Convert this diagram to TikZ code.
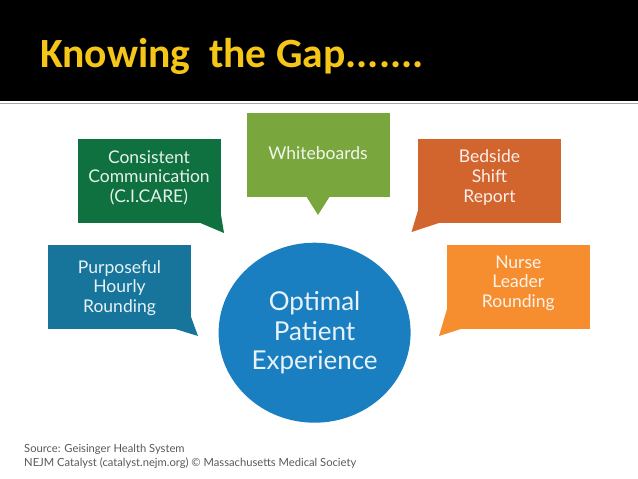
\documentclass[tikz,border=0pt]{standalone}
\usepackage{fontspec}
\setmainfont{Lato}
\newfontfamily\titlefont{Carlito}
\usepackage{tikz}
\definecolor{darkgreen}{HTML}{0F7140}
\definecolor{leafgreen}{HTML}{79A73D}
\definecolor{rust}{HTML}{D2642E}
\definecolor{teal}{HTML}{17759B}
\definecolor{amber}{HTML}{F68E2F}
\definecolor{circleblue}{HTML}{1A7FC1}
\definecolor{gold}{HTML}{F5C518}
\tikzset{
  bubble/.style={inner sep=0pt, minimum width=143pt, minimum height=84pt},
  bubbletext/.style={text=white, align=center, font=\fontsize{17.5}{19.6}\selectfont, opacity=0.9},
}
\begin{document}
\begin{tikzpicture}[x=1pt, y=-1pt]
    \useasboundingbox (0,0) rectangle (638,479);
    % Header
    \fill[black] (0,0) rectangle (638,100.5);
    \fill[gray!70] (0,102.5) rectangle (638,104);
    \node[anchor=base west, inner sep=0pt, text=gold, font=\titlefont\fontsize{41.6}{41.6}\selectfont\bfseries] (title) at (40,67.5) {Knowing\ \ the Gap.......};
    % Bubbles
    \node[bubble, fill=darkgreen] (consistent) at (149,181) {};
    \node[bubble, fill=leafgreen] (whiteboards) at (318,154.7) {};
    \node[bubble, fill=rust] (bedside) at (489.5,181) {};
    \node[bubble, fill=teal] (purposeful) at (119.5,287) {};
    \node[bubble, fill=amber] (nurse) at (518.3,287) {};
    % Tails
    \fill[darkgreen] (198,222) -- (224,233) -- (220,209) -- cycle;
    \fill[leafgreen] (306,196) -- (318,215) -- (330,196) -- cycle;
    \fill[rust] (442,222) -- (411.5,232) -- (419,207) -- cycle;
    \fill[teal] (172,328) -- (198,336) -- (190,314) -- cycle;
    \fill[amber] (464,328) -- (439,336) -- (447,309) -- cycle;
    % Labels
    \node[bubbletext] (consistentlabel) at (149,177.5) {Consistent\\Communication\\(C.I.CARE)};
    \node[bubbletext] (whiteboardslabel) at (318,153) {Whiteboards};
    \node[bubbletext] (bedsidelabel) at (489.5,177.5) {Bedside\\Shift\\Report};
    \node[bubbletext] (purposefullabel) at (119.5,288) {Purposeful\\Hourly\\Rounding};
    \node[bubbletext] (nurselabel) at (518.3,283) {Nurse\\Leader\\Rounding};
    % Circle
    \fill[circleblue] (314.6,332.7) ellipse (96 and 90);
    \node[text=white, align=center, font=\fontsize{26}{29.5}\selectfont, opacity=0.9] (optimal) at (314.6,333) {Optimal\\Patient\\Experience};
    % Source
    \node[anchor=north west, inner sep=0pt, align=left, text=black!65, font=\fontsize{11.2}{14}\selectfont] (source) at (24,444) {Source: Geisinger Health System\\NEJM Catalyst (catalyst.nejm.org) © Massachusetts Medical Society};
\end{tikzpicture}
\end{document}
